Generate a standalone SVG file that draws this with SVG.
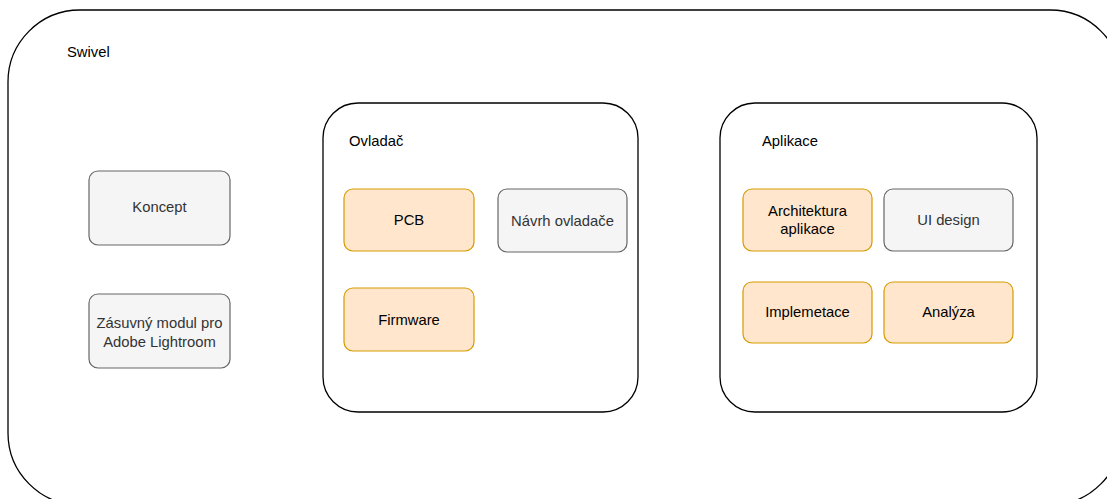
<svg xmlns="http://www.w3.org/2000/svg" width="1107" height="499" viewBox="0 0 1107 499">
  <style>
    .frame { fill: #ffffff; stroke: #000000; stroke-width: 1.3; }
    .gray { fill: #f5f5f5; stroke: #666666; stroke-width: 1.2; }
    .orange { fill: #ffe6cc; stroke: #d79b00; stroke-width: 1.2; }
    text { font-family: "Liberation Sans", Arial, sans-serif; font-size: 14.8px; }
    .c { text-anchor: middle; }
    .dark { fill: #000000; }
    .muted { fill: #333333; }
  </style>

  <!-- outer container -->
  <g id="swivel">
    <rect class="frame" x="8" y="10" width="1114" height="495" rx="72" ry="72"/>
    <text class="dark" x="67" y="57">Swivel</text>
  </g>

  <!-- sub-containers -->
  <g id="ovladac">
    <rect class="frame" x="323" y="103" width="315" height="309" rx="35" ry="35"/>
    <text class="dark" x="349" y="146">Ovladač</text>
  </g>
  <g id="aplikace">
    <rect class="frame" x="720" y="103" width="317" height="309" rx="35" ry="35"/>
    <text class="dark" x="762" y="146">Aplikace</text>
  </g>

  <!-- standalone nodes -->
  <g id="koncept">
    <rect class="gray" x="89" y="171" width="141" height="74" rx="9" ry="9"/>
    <text class="c muted" x="159.5" y="212">Koncept</text>
  </g>
  <g id="zasuvny-modul">
    <rect class="gray" x="89" y="294" width="141" height="74" rx="9" ry="9"/>
    <text class="c muted" x="159.5" y="328">Zásuvný modul pro</text>
    <text class="c muted" x="159.5" y="347">Adobe Lightroom</text>
  </g>

  <!-- controller parts -->
  <g id="pcb">
    <rect class="orange" x="344" y="189" width="130" height="62" rx="9" ry="9"/>
    <text class="c dark" x="409" y="225">PCB</text>
  </g>
  <g id="navrh-ovladace">
    <rect class="gray" x="498" y="189" width="129" height="63" rx="9" ry="9"/>
    <text class="c muted" x="562.5" y="225.5">Návrh ovladače</text>
  </g>
  <g id="firmware">
    <rect class="orange" x="344" y="288" width="130" height="63" rx="9" ry="9"/>
    <text class="c dark" x="409" y="325">Firmware</text>
  </g>

  <!-- application parts -->
  <g id="architektura">
    <rect class="orange" x="743" y="189" width="129" height="62" rx="9" ry="9"/>
    <text class="c dark" x="807.5" y="216">Architektura</text>
    <text class="c dark" x="807.5" y="234">aplikace</text>
  </g>
  <g id="ui-design">
    <rect class="gray" x="884" y="189" width="129" height="62" rx="9" ry="9"/>
    <text class="c muted" x="948.5" y="225">UI design</text>
  </g>
  <g id="implemetace">
    <rect class="orange" x="743" y="282" width="129" height="61" rx="9" ry="9"/>
    <text class="c dark" x="807.5" y="317">Implemetace</text>
  </g>
  <g id="analyza">
    <rect class="orange" x="884" y="282" width="129" height="61" rx="9" ry="9"/>
    <text class="c dark" x="948.5" y="317">Analýza</text>
  </g>

  <!-- no connectors in this diagram -->
  <g id="connectors"/>
</svg>
